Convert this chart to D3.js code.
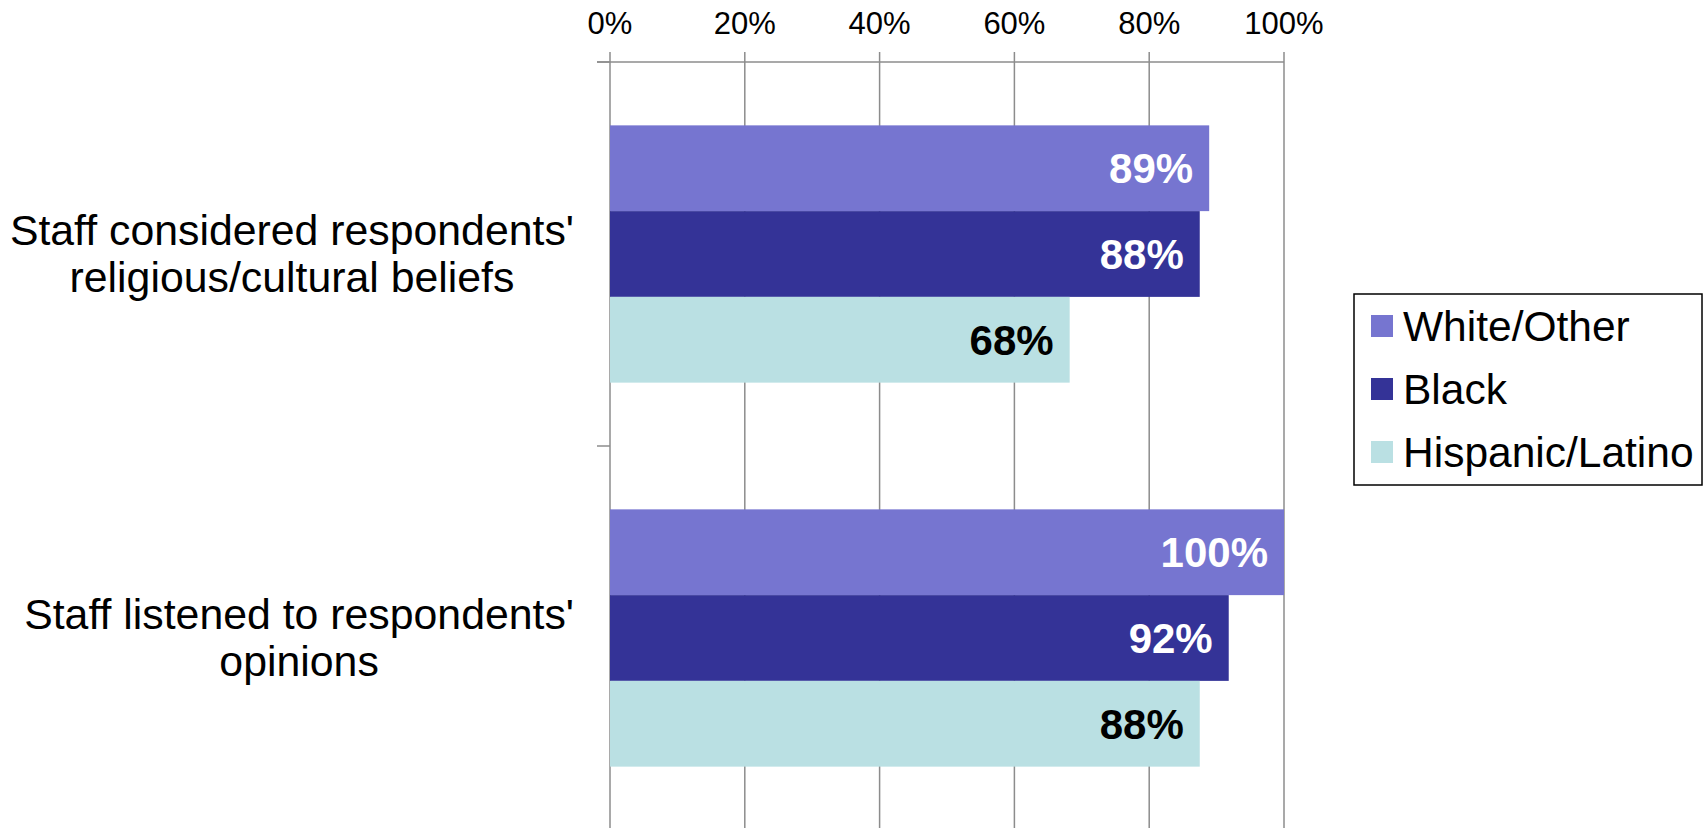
<!DOCTYPE html>
<html><head><meta charset="utf-8">
<script src="https://cdn.jsdelivr.net/npm/d3@7"></script>
<style>
html,body{margin:0;padding:0;background:#fff;}
svg{display:block;font-family:Arial,"Liberation Sans",sans-serif;}
</style></head>
<body><svg id="c" width="1705" height="828"></svg>
<script>
const categories = [
  ["Staff considered respondents'", "religious/cultural beliefs"],
  ["Staff listened to respondents'", "opinions"]
];
const categoryKeys = ["c1", "c2"];
const seriesNames = ["White/Other", "Black", "Hispanic/Latino"];
const whiteOther = [88.9, 100];
const black = [87.5, 91.8];
const hispanicLatino = [68.2, 87.5];
const tickValues = [0, 20, 40, 60, 80, 100];
const tickLabels = ["0%", "20%", "40%", "60%", "80%", "100%"];

const colors = ["#7675D0", "#343397", "#BAE0E3"];
const labelColors = ["#fff", "#fff", "#000"];
const series = [whiteOther, black, hispanicLatino];

const svg = d3.select("#c");
const pLeft = 610, pRight = 1284, pTop = 62, pBottom = 830;

const x = d3.scaleLinear().domain([0, 100]).range([pLeft, pRight]);
const y0 = d3.scaleBand().domain(categoryKeys).range([pTop, pBottom]).paddingInner(0.33).paddingOuter(0.165);
const y1 = d3.scaleBand().domain(seriesNames).range([0, y0.bandwidth()]);

const grid = "#8c8c8c";
svg.append("g").selectAll("line").data(tickValues).join("line")
  .attr("x1", d => x(d)).attr("x2", d => x(d))
  .attr("y1", pTop - 10).attr("y2", 828)
  .attr("stroke", grid).attr("stroke-width", 1.5);

svg.append("line").attr("x1", pLeft - 13).attr("x2", pRight).attr("y1", pTop).attr("y2", pTop)
  .attr("stroke", grid).attr("stroke-width", 1.5);

const step = y0.step();
const sepYs = [pTop, pTop + step, pTop + 2 * step];
svg.append("g").selectAll("line").data(sepYs).join("line")
  .attr("x1", pLeft - 13).attr("x2", pLeft).attr("y1", d => d).attr("y2", d => d)
  .attr("stroke", grid).attr("stroke-width", 1.5);

svg.append("g").selectAll("text").data(tickValues).join("text")
  .attr("x", d => x(d)).attr("y", 34)
  .attr("text-anchor", "middle").attr("font-size", 31).attr("fill", "#000")
  .text((d, i) => tickLabels[i]);

const groups = svg.append("g").selectAll("g").data(categoryKeys).join("g")
  .attr("transform", d => `translate(0,${y0(d)})`);

groups.each(function(cat, ci) {
  const g = d3.select(this);
  seriesNames.forEach((s, si) => {
    const v = series[si][ci];
    g.append("rect")
      .attr("x", x(0)).attr("y", y1(s))
      .attr("width", x(v) - x(0)).attr("height", y1.bandwidth())
      .attr("fill", colors[si]);
    g.append("text")
      .attr("x", x(v) - 16).attr("y", y1(s) + y1.bandwidth() / 2)
      .attr("dy", "0.36em").attr("text-anchor", "end")
      .attr("font-size", 42).attr("font-weight", "bold")
      .attr("fill", labelColors[si])
      .text(Math.round(v) + "%");
  });
});

const labelRight = 574;
categoryKeys.forEach((k, ci) => {
  const cy = y0(k) + y0.bandwidth() / 2;
  const lines = categories[ci];
  const lh = 47;
  const texts = lines.map((ln, li) => svg.append("text")
      .attr("y", cy + (li - (lines.length - 1) / 2) * lh)
      .attr("dy", "0.35em").attr("text-anchor", "middle")
      .attr("font-size", 42.8).attr("fill", "#000")
      .text(ln));
  const maxW = d3.max(texts, t => t.node().getComputedTextLength());
  texts.forEach(t => t.attr("x", labelRight - maxW / 2));
});

const lg = svg.append("g");
lg.append("rect").attr("x", 1354).attr("y", 294).attr("width", 348).attr("height", 191)
  .attr("fill", "#fff").attr("stroke", "#000").attr("stroke-width", 1.5);
seriesNames.forEach((s, i) => {
  const cy = 326 + i * 63;
  lg.append("rect").attr("x", 1371).attr("y", cy - 11).attr("width", 22).attr("height", 22).attr("fill", colors[i]);
  lg.append("text").attr("x", 1403).attr("y", cy).attr("dy", "0.35em")
    .attr("font-size", 42.5).attr("fill", "#000").text(s);
});
</script></body></html>
